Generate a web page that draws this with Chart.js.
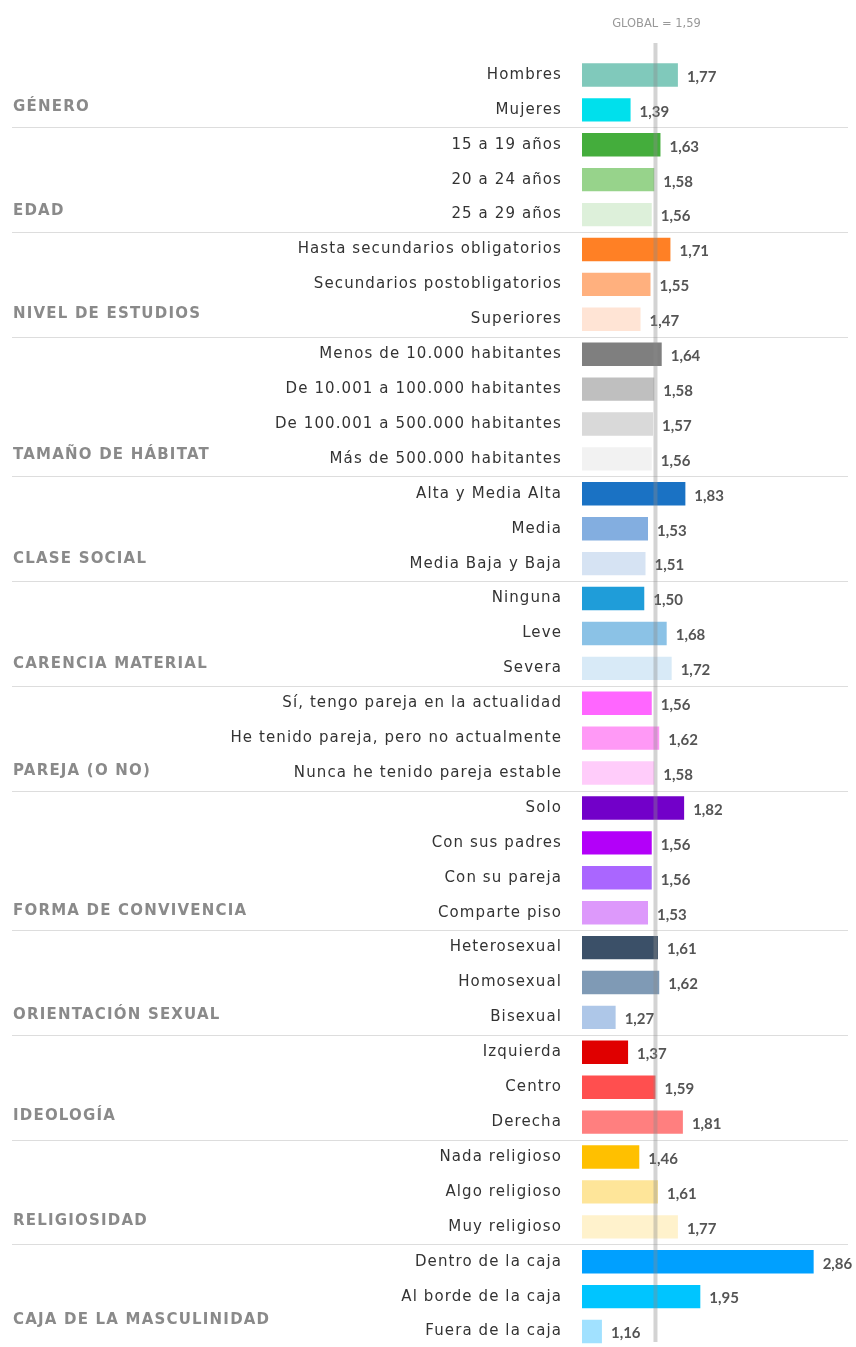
<!DOCTYPE html>
<html>
<head>
<meta charset="utf-8">
<script src="https://cdn.jsdelivr.net/npm/chart.js@4.4.0/dist/chart.umd.min.js"></script>
<style>
html,body{margin:0;padding:0;background:#fff;overflow:hidden;}
#wrap{position:relative;width:856px;height:1378px;}
</style>
</head>
<body>
<div id="wrap"><canvas id="c"></canvas></div>
<script>
const categories = [
  "Hombres","Mujeres",
  "15 a 19 años","20 a 24 años","25 a 29 años",
  "Hasta secundarios obligatorios","Secundarios postobligatorios","Superiores",
  "Menos de 10.000 habitantes","De 10.001 a 100.000 habitantes","De 100.001 a 500.000 habitantes","Más de 500.000 habitantes",
  "Alta y Media Alta","Media","Media Baja y Baja",
  "Ninguna","Leve","Severa",
  "Sí, tengo pareja en la actualidad","He tenido pareja, pero no actualmente","Nunca he tenido pareja estable",
  "Solo","Con sus padres","Con su pareja","Comparte piso",
  "Heterosexual","Homosexual","Bisexual",
  "Izquierda","Centro","Derecha",
  "Nada religioso","Algo religioso","Muy religioso",
  "Dentro de la caja","Al borde de la caja","Fuera de la caja"
];
const values = [
  1.77,1.39,
  1.63,1.58,1.56,
  1.71,1.55,1.47,
  1.64,1.58,1.57,1.56,
  1.83,1.53,1.51,
  1.50,1.68,1.72,
  1.56,1.62,1.58,
  1.82,1.56,1.56,1.53,
  1.61,1.62,1.27,
  1.37,1.59,1.81,
  1.46,1.61,1.77,
  2.86,1.95,1.16
];
const groupNames = ["GÉNERO","EDAD","NIVEL DE ESTUDIOS","TAMAÑO DE HÁBITAT","CLASE SOCIAL","CARENCIA MATERIAL","PAREJA (O NO)","FORMA DE CONVIVENCIA","ORIENTACIÓN SEXUAL","IDEOLOGÍA","RELIGIOSIDAD","CAJA DE LA MASCULINIDAD"];
const groupSizes = [2,3,3,4,3,3,3,4,3,3,3,3];
const globalValue = 1.59;
const globalLabel = "GLOBAL = 1,59";

// styles
const barColors = [
  "#80c9bb","#00e0ec",
  "#44ad3c","#97d38b","#ddf0da",
  "#ff8025","#ffb07e","#ffe4d5",
  "#7f7f7f","#bfbfbf","#d9d9d9","#f2f2f2",
  "#1a72c4","#83aee0","#d6e3f3",
  "#1f9dd9","#8bc2e6","#d8eaf7",
  "#ff66ff","#ff99f6","#ffccfa",
  "#7200c9","#b300f9","#aa66ff","#dd99fb",
  "#3b5068","#7f9ab5","#aec7e8",
  "#e00000","#ff4f4f","#ff7f7f",
  "#ffc000","#fee599","#fff2cc",
  "#00a0ff","#00c5ff","#a1e1ff"
];
const groupLabelOffsets = [-3,-3,-5,-4,-5,-4,-2,-2,-2,-6,-6,-11];

const LABEL_FONT = "'DejaVu Sans'";
const VALUE_FONT = "Lato";
const fmt = v => v.toFixed(2).replace('.', ',');

const overlay = {
  id: 'overlay',
  beforeDraw(chart) {
    chart.ctx.letterSpacing = "1.1px";
  },
  beforeDatasetsDraw(chart) {
    const ctx = chart.ctx, y = chart.scales.y;
    ctx.letterSpacing = "0px";
    ctx.save();
    // separators
    let idx = 0;
    ctx.strokeStyle = "#dddddd";
    ctx.lineWidth = 1;
    for (let g = 0; g < groupSizes.length - 1; g++) {
      idx += groupSizes[g];
      const py = Math.round((y.getPixelForValue(idx - 1) + y.getPixelForValue(idx)) / 2) + 0.5;
      ctx.beginPath(); ctx.moveTo(12, py); ctx.lineTo(848, py); ctx.stroke();
    }
    // group labels
    ctx.fillStyle = "#8a8a8a";
    ctx.font = "bold 15px " + LABEL_FONT;
    ctx.letterSpacing = "1.2px";
    ctx.textAlign = "left"; ctx.textBaseline = "middle";
    idx = 0;
    for (let g = 0; g < groupSizes.length; g++) {
      idx += groupSizes[g];
      ctx.fillText(groupNames[g], 13, y.getPixelForValue(idx - 1) + groupLabelOffsets[g]);
    }
    ctx.restore();
  },
  afterDatasetsDraw(chart) {
    const ctx = chart.ctx, x = chart.scales.x, y = chart.scales.y;
    ctx.save();
    ctx.letterSpacing = "0px";
    // value labels
    ctx.fillStyle = "#555555";
    ctx.font = "bold 15px " + VALUE_FONT;
    ctx.textAlign = "left"; ctx.textBaseline = "middle";
    values.forEach((v, i) => {
      ctx.fillText(fmt(v), x.getPixelForValue(v) + 9, y.getPixelForValue(i) + 2);
    });
    // global line
    const gx = x.getPixelForValue(globalValue);
    ctx.fillStyle = "rgba(140,140,140,0.38)";
    ctx.fillRect(gx - 2, 43, 4, 1299);
    ctx.fillStyle = "#999999";
    ctx.font = "11.5px " + LABEL_FONT;
    ctx.textAlign = "center";
    ctx.fillText(globalLabel, gx + 1, 24);
    ctx.restore();
  }
};

new Chart(document.getElementById('c'), {
  type: 'bar',
  data: {
    labels: categories,
    datasets: [{
      data: values,
      backgroundColor: barColors,
      borderWidth: 0,
      barPercentage: 0.67,
      categoryPercentage: 1
    }]
  },
  options: {
    indexAxis: 'y',
    responsive: true,
    maintainAspectRatio: false,
    animation: false,
    layout: { padding: { top: 57.5, bottom: 0, left: 0, right: 0 } },
    plugins: { legend: { display: false }, tooltip: { enabled: false } },
    scales: {
      x: { type: 'linear', min: 1, max: 3.2, display: false },
      y: {
        type: 'category',
        grid: { display: false, drawTicks: false },
        border: { display: false },
        ticks: {
          autoSkip: false,
          padding: 20,
          color: "#333333",
          font: { family: LABEL_FONT, size: 15 }
        },
        afterFit(scale) { scale.width = 582; }
      }
    }
  },
  plugins: [overlay]
});
</script>
</body>
</html>
